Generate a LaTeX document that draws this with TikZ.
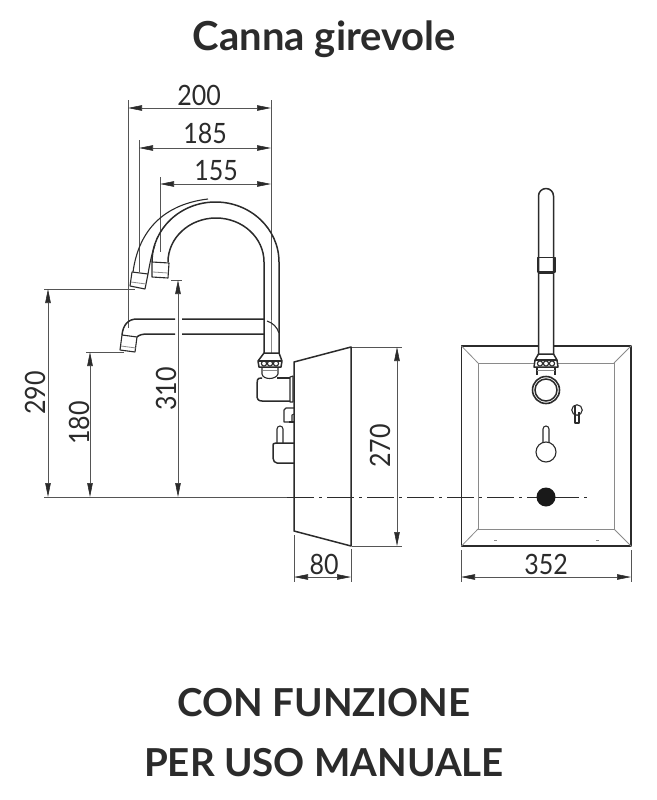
\documentclass[tikz,border=0pt]{standalone}
\usepackage{fontspec}
\setmainfont{Lato}
\usetikzlibrary{arrows.meta}
\definecolor{ink}{HTML}{2B2B2B}
\definecolor{dimc}{HTML}{555555}
\definecolor{lite}{HTML}{8A8A8A}
\tikzset{
 obj/.style={draw=ink,line width=1.1pt,line join=round},
 objb/.style={draw=ink,line width=1.5pt,line join=round},
 thin1/.style={draw=lite,line width=0.8pt},
 ext/.style={draw=dimc,line width=0.55pt},
 dimline/.style={draw=dimc,line width=0.6pt,{Triangle[length=14pt,width=5.5pt,color=ink]}-{Triangle[length=14pt,width=5.5pt,color=ink]}},
 axis/.style={draw=ink,line width=0.6pt,dash pattern=on 27pt off 5pt on 3pt off 5pt},
 dimtext/.style={font=\fontsize{25}{25}\selectfont,text=ink,inner sep=0pt,yscale=1.12},
 dimtextv/.style={font=\fontsize{25}{25}\selectfont,text=ink,inner sep=0pt,rotate=90},
 titletext/.style={font=\bfseries\fontsize{40}{40}\selectfont,text=ink,inner sep=0pt},
 bigtext/.style={font=\bfseries\fontsize{38.5}{38.5}\selectfont,text=ink,inner sep=0pt},
}
\begin{document}
\begin{tikzpicture}[x=1pt,y=-1pt]
\useasboundingbox (0,0) rectangle (656,800);
% texts
\node[titletext] (title) at (324.5,39) {Canna girevole};
\node[bigtext] (l1) at (324,703) {CON FUNZIONE};
\node[bigtext] (l2) at (324,763) {PER USO MANUALE};
% extension lines
\draw[ext] (128,100)--(128,328);
\draw[ext] (139,140)--(139,272);
\draw[ext] (160,177)--(160,252);
\draw[ext] (271,100)--(271,325);
\draw[ext] (44,289)--(135,289);
\draw[ext] (86,352)--(124,352);
\draw[ext] (171,280)--(182,280);
\draw[ext] (44,497)--(287,497);
\draw[ext] (352,347)--(402,347);
\draw[ext] (352,546)--(402,546);
\draw[ext] (294,535)--(294,582);
\draw[ext] (351,549)--(351,582);
\draw[ext] (461,550)--(461,582);
\draw[ext] (631,550)--(631,582);
% dims
\coordinate (a1) at (128,108); \coordinate (a2) at (271,108);
\coordinate (b1) at (139,148); \coordinate (b2) at (271,148);
\coordinate (c1) at (160,184); \coordinate (c2) at (271,184);
\coordinate (d1) at (48,289); \coordinate (d2) at (48,497);
\coordinate (e1) at (90,352); \coordinate (e2) at (90,497);
\coordinate (f1) at (178,280); \coordinate (f2) at (178,497);
\coordinate (g1) at (397,347); \coordinate (g2) at (397,546);
\coordinate (h1) at (294,577); \coordinate (h2) at (351,577);
\coordinate (i1) at (461,577); \coordinate (i2) at (631,577);
\foreach \p/\q in {a1/a2,b1/b2,c1/c2,d1/d2,e1/e2,f1/f2,g1/g2,h1/h2,i1/i2}{\draw[dimline] (\p)--(\q);}
\node[dimtext] (t200) at (199,95) {200};
\node[dimtext] (t185) at (205,133) {185};
\node[dimtext] (t155) at (216,171) {155};
\node[dimtextv] (t290) at (35,393) {\scalebox{1}[1.12]{290}};
\node[dimtextv] (t180) at (79,423) {\scalebox{1}[1.12]{180}};
\node[dimtextv] (t310) at (166,389) {\scalebox{1}[1.12]{310}};
\node[dimtextv] (t270) at (380,446) {\scalebox{1}[1.12]{270}};
\node[dimtext] (t80) at (324,564) {80};
\node[dimtext] (t352) at (546,564) {352};
% gooseneck
\draw[objb] (152,262) arc[start angle=180,end angle=360,x radius=63.5,y radius=60] -- (279,353);
\draw[objb] (168,262) arc[start angle=180,end angle=360,x radius=48,y radius=44] -- (264,353);
\draw[obj] (152,262)--(169,263)--(168,278)--(152,277)--cycle;
\draw[thin1] (153,272)--(168,273);
% rotated spout
\draw[obj] (133,272) .. controls (139,228) and (166,204) .. (208,199);
\draw[obj] (148,274) .. controls (150,262) and (152,253) .. (155,245);
\draw[obj] (132,272)--(148,274)--(145,289)--(130,286)--cycle;
\draw[thin1] (131,282)--(146,284);
% lower spout
\draw[objb] (264,319)--(182,319) (175,319)--(137,319) .. controls (128,319) and (123,325) .. (122,335);
\draw[objb] (264,334)--(182,334) (175,334)--(148,334) .. controls (142,334) and (139,335) .. (137,337);
\draw[obj] (122,335)--(137,337)--(135,352)--(120,350)--cycle;
\draw[thin1] (121,346)--(136,348);
\draw[thin1] (271,320)--(271,353);
\draw[obj] (267,321) .. controls (273,323) and (277,327) .. (279,333);
% nut
\draw[objb] (264,353)--(279,353)--(282,361)--(281,367)--(259,367)--(258,361)--cycle;
\draw[obj] (259,361)--(281,361);
\foreach \xx in {264,270,276}{\draw[obj] (\xx,363.5) ellipse[x radius=2.6,y radius=2.6];}
\draw[obj] (262,367)--(262,374) .. controls (263,380) and (276,380) .. (278,374)--(278,367);
\draw[thin1] (263,370)--(277,370);
% T-piece
\draw[objb] (262,378) -- (261,378) .. controls (257,378) and (257,381) .. (257,384) -- (257,395) .. controls (257,399) and (258,401) .. (262,401) -- (290,401);
\draw[objb] (277,378)--(290,378);
\draw[obj] (290,377)--(293,376)--(293,402)--(290,402)--cycle;
% knob
\draw[obj] (294,408)--(286,408)--(284,410)--(284,422)--(292,422) (292,422)--(292,415)--(294,414);
\draw[objb] (289,422)--(294,422);
% lever
\draw[obj] (277,443)--(277,429) arc[start angle=180,end angle=360,radius=3] -- (283,443);
\draw[objb] (294,443)--(276,443) .. controls (273,443) and (273,444) .. (273,446)--(273,458) .. controls (273,461) and (275,463) .. (277,463)--(294,463);
% cabinet side
\draw[objb] (294,362)--(351,347)--(351,546)--(294,531)--cycle;
% axis
\draw[axis] (287,497)--(540,497);
\draw[axis] (552,497)--(587,497);
% front view
\draw[objb] (461.5,346) rectangle (631,546);
\draw[thin1] (478,363) rectangle (614,529);
\draw[thin1] (461.5,346)--(478,363) (631,346)--(614,363) (461.5,546)--(478,529) (631,546)--(614,529);
\draw[objb,fill=white] (538.5,354)--(538.5,196) arc[start angle=180,end angle=360,radius=7.5] -- (553.5,354);
\draw[obj] (538,257.5) rectangle (555,272);
\draw[objb] (538.5,273)--(553.5,273);
\draw[objb,fill=white] (538.5,354)--(553.5,354)--(557,360)--(558,367)--(534,367)--(535,360)--cycle;
\draw[obj] (535,360)--(557,360);
\foreach \xx in {540,546,552}{\draw[obj] (\xx,363.5) ellipse[x radius=2.6,y radius=2.6];}
\draw[obj] (537,367)--(537,375) (555,367)--(555,375);
\draw[thin1] (537,370)--(555,370);
\node[circle,draw=ink,line width=1.6pt,minimum size=27pt,inner sep=0pt,fill=white] (ring) at (546,390) {};
\node[circle,draw=ink,line width=1.5pt,minimum size=22pt,inner sep=0pt] (ringin) at (546,390) {};
% small lever
\draw[obj] (575,412)--(575,423)--(579,423)--(579,412);
\node[circle,draw=ink,line width=1.1pt,minimum size=10.5pt,inner sep=0pt] (sm) at (577,410) {};
\draw[obj] (575,405)--(575,415);
% main lever
\draw[obj] (543,444)--(543,429) arc[start angle=180,end angle=360,radius=3] -- (549,444);
\node[circle,draw=ink,line width=1.1pt,minimum size=20pt,inner sep=0pt,fill=white] (lev) at (546,452) {};
% sensor
\node[circle,fill=black!90,minimum size=19pt,inner sep=0pt] (sensor) at (546,497) {};
% screws
\draw[thin1] (494,540) -- (497,540);
\draw[thin1] (596,540) -- (599,540);
\end{tikzpicture}
\end{document}
